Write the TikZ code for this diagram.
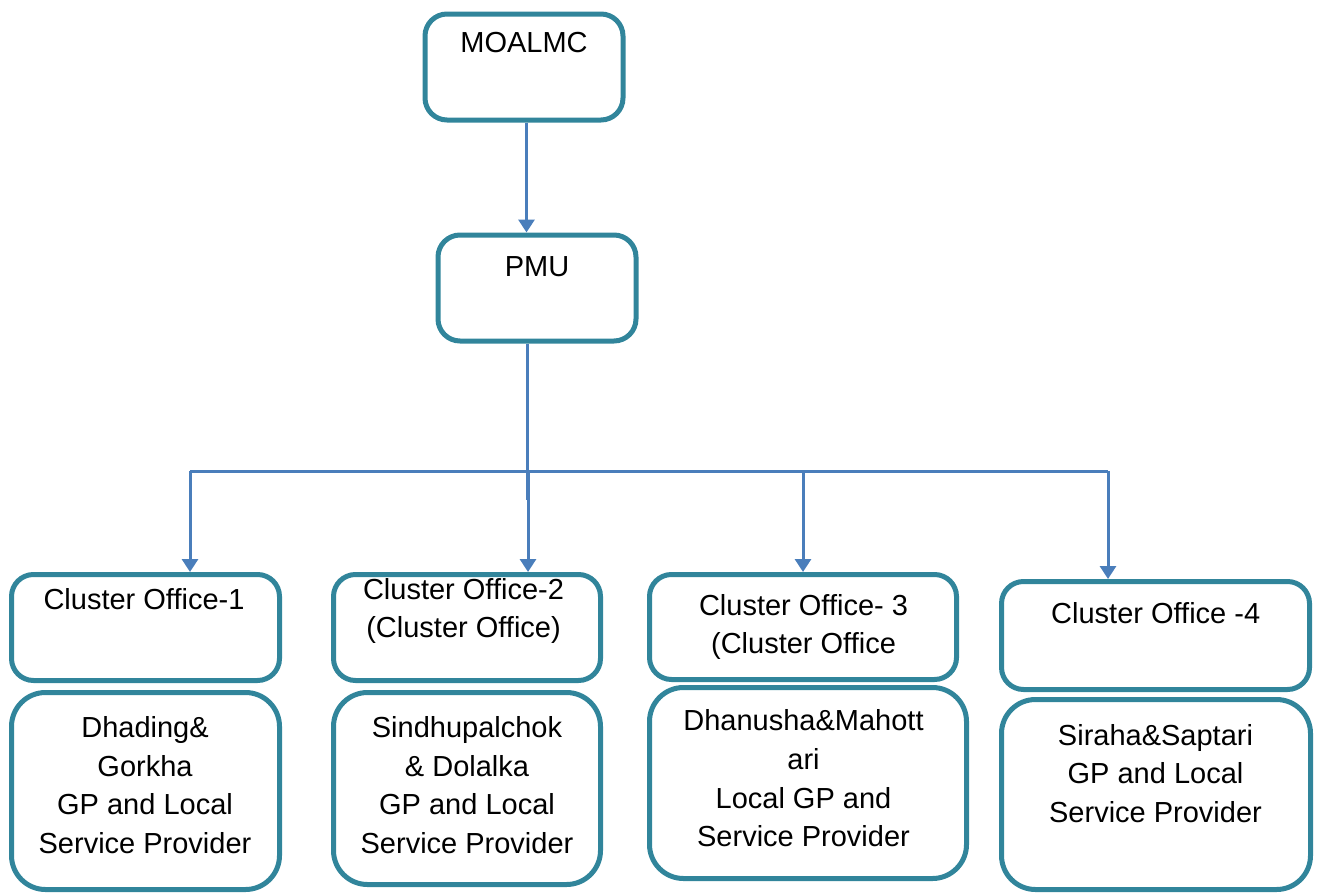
\documentclass[tikz,border=0pt]{standalone}
\usepackage{fontspec}
\setmainfont{Liberation Sans}
\usetikzlibrary{arrows.meta}
\definecolor{boxteal}{HTML}{31859B}
\definecolor{linkblue}{HTML}{4A7EBB}

\begin{document}
\begin{tikzpicture}[x=1pt,y=-1pt,
  office/.style={draw=boxteal, line width=5pt, rounded corners=22pt},
  area/.style={draw=boxteal, line width=5pt, rounded corners=34pt},
  txt/.style={align=center, inner sep=0pt, font=\fontsize{29}{38.7}\selectfont},
  link/.style={draw=linkblue, line width=3pt},
  arrow/.style={link, -{Triangle[width=16pt,length=13pt]}}]
\useasboundingbox (0,0) rectangle (1319,894);

\node[office, minimum width=198pt, minimum height=106pt] (moalmc) at (524,67) {};
\node[office, minimum width=198pt, minimum height=106pt] (pmu) at (537,288) {};
\node[txt] (moalmc-t) at (524,43) {MOALMC};
\node[txt] (pmu-t) at (537,267) {PMU};

\node[office, minimum width=268pt, minimum height=106pt] (co1) at (145.5,627.5) {};
\node[office, minimum width=267pt, minimum height=106pt] (co2) at (467,627.5) {};
\node[office, minimum width=307pt, minimum height=105pt] (co3) at (803,627) {};
\node[office, minimum width=308pt, minimum height=108pt] (co4) at (1155.5,635.5) {};
\node[txt] (co1-t) at (144,599) {Cluster Office-1};
\node[txt] (co2-t) at (463.5,611) {Cluster Office-2\\(Cluster Office)};
\node[txt] (co3-t) at (803.5,627) {Cluster Office- 3\\(Cluster Office};
\node[txt] (co4-t) at (1155.7,613) {Cluster Office -4};

\node[area, minimum width=268pt, minimum height=197pt] (area1) at (145.5,791) {};
\node[area, minimum width=267pt, minimum height=192pt] (area2) at (467,788.5) {};
\node[area, minimum width=317pt, minimum height=191pt] (area3) at (808,783) {};
\node[area, minimum width=309pt, minimum height=190pt] (area4) at (1156,794.5) {};
\node[txt] (area1-t) at (145,785) {Dhading\&\\Gorkha\\GP and Local\\Service Provider};
\node[txt] (area2-t) at (467,785) {Sindhupalchok\\\& Dolalka\\GP and Local\\Service Provider};
\node[txt] (area3-t) at (803.5,778.5) {Dhanusha\&Mahott\\ari\\ Local GP and\\Service Provider};
\node[txt] (area4-t) at (1155.5,773.5) {Siraha\&Saptari\\GP and Local\\Service Provider};

% links
\draw[arrow] ([xshift=2.5pt]moalmc.south) -- ([xshift=-10.5pt]pmu.north);
\coordinate (trunk) at (527,500);
\draw[link] ([xshift=-10pt]pmu.south) -- (trunk);

\coordinate (barL) at (190,471);
\coordinate (bar2) at (528,471);
\coordinate (bar3) at (803,473);
\coordinate (barR) at (1108,471);
\draw[link] (barL) -- (barR);
\draw[arrow] (barL) -- (barL |- co1.north);
\draw[arrow] (bar2) -- (bar2 |- co2.north);
\draw[arrow] (bar3) -- (bar3 |- co3.north);
\draw[arrow] (barR) -- (barR |- co4.north);
\end{tikzpicture}
\end{document}
